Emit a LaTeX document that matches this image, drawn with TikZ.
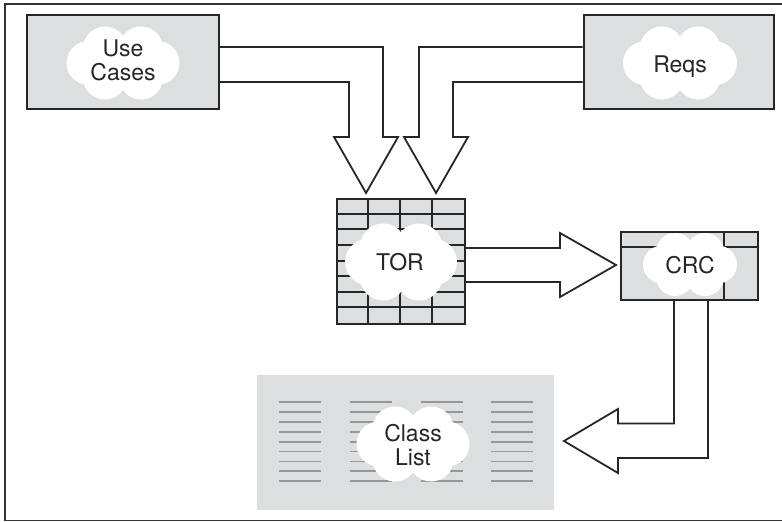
\documentclass[tikz,border=0pt]{standalone}
\usepackage{fontspec}
\setmainfont{TeX Gyre Heros}
\definecolor{boxgray}{RGB}{221,222,223}
\definecolor{linegray}{RGB}{150,150,152}
\newcommand\cloudblob[4]{%
  \fill[white] ({#1-0.16*#3},{#2-0.2*#4}) circle[radius={0.3*#4*1pt}];
  \fill[white] ({#1+0.16*#3},{#2-0.2*#4}) circle[radius={0.3*#4*1pt}];
  \fill[white] ({#1-0.16*#3},{#2+0.2*#4}) circle[radius={0.3*#4*1pt}];
  \fill[white] ({#1+0.16*#3},{#2+0.2*#4}) circle[radius={0.3*#4*1pt}];
  \fill[white] ({#1-0.5*#3+0.3*#4},{#2}) circle[radius={0.3*#4*1pt}];
  \fill[white] ({#1+0.5*#3-0.3*#4},{#2}) circle[radius={0.3*#4*1pt}];
  \fill[white] ({#1-0.5*#3+0.3*#4},{#2-0.25*#4}) rectangle ({#1+0.5*#3-0.3*#4},{#2+0.25*#4});
}
\tikzset{
  box/.style={draw=black!85, fill=boxgray, line width=2pt, inner sep=0pt, rectangle},
  blockarrow/.style={draw=black!85, fill=white, line width=1.8pt, line join=miter},
  label/.style={font=\fontsize{23}{24}\selectfont, align=center, inner sep=0pt, text=black!85},
  grid/.style={draw=black!85, line width=2pt},
}
\begin{document}
\begin{tikzpicture}[x=1pt,y=-1pt]
\useasboundingbox (0,0) rectangle (782,522);
% frame
\draw[line width=1.3pt, black!80] (782,4) -- (5,4) -- (5,520.5) -- (782,520.5);

% boxes
\node[box, minimum width=192pt, minimum height=94pt] (uc) at (123,62) {};
\node[box, minimum width=190pt, minimum height=94pt] (reqs) at (678.5,62) {};
\node[box, minimum width=128pt, minimum height=125pt] (tor) at (401,261.5) {};
\node[box, minimum width=137pt, minimum height=68pt] (crc) at (689.5,266) {};
\node[fill=boxgray, draw=none, inner sep=0pt, minimum width=297pt, minimum height=135pt] (cl) at (405.5,442.5) {};

% block arrows
\draw[blockarrow] (uc.east |- 0,47) -- (383,47) -- (383,137) -- (398,137) -- (366,193)
  -- (334,137) -- (349,137) -- (349,82) -- (uc.east |- 0,82);
\draw[blockarrow] (reqs.west |- 0,47) -- (419,47) -- (419,137) -- (404,137) -- (436,193)
  -- (468,137) -- (453,137) -- (453,82) -- (reqs.west |- 0,82);
\draw[blockarrow] (tor.east |- 0,248) -- (560,248) -- (560,233) -- (616,265)
  -- (560,297) -- (560,282) -- (tor.east |- 0,282);
\draw[blockarrow] (crc.south -| 674,0) -- (674,423.5) -- (618,423.5) -- (618,409) -- (564,441)
  -- (618,473) -- (618,458) -- (708,458) -- (crc.south -| 708,0);

% TOR grid
\foreach \i in {1,2,3} \draw[grid] ([xshift=32*\i pt]tor.north west) -- ([xshift=32*\i pt]tor.south west);
\foreach \j in {1,...,7} \draw[grid] ([yshift=-15.625*\j pt]tor.north west) -- ([yshift=-15.625*\j pt]tor.north east);

% CRC dividers
\draw[grid] ([yshift=-16pt]crc.north west) -- ([yshift=-16pt]crc.north east);
\draw[grid] ([xshift=104pt]crc.north west) -- ([xshift=104pt]crc.south west);

% class list lines
\foreach \x in {279,350,421,491}
  \foreach \k in {0,...,8}
    \draw[linegray, line width=1.7pt] (\x,{402.3+9.85*\k}) -- ({\x+42},{402.3+9.85*\k});

% clouds
\cloudblob{123}{63}{113}{73}
\cloudblob{680}{63}{114}{73}
\cloudblob{401}{262}{112}{77}
\cloudblob{690}{264.5}{94}{63}
\cloudblob{413}{444}{113}{75}

% labels
\node[label] (uct) at (123,60.8) {Use\\Cases};
\node[label, anchor=base] (reqst) at (680,72.5) {Reqs};
\node[label, anchor=base] (tort) at (400,270.5) {TOR};
\node[label, anchor=base] (crct) at (690,273.3) {CRC};
\node[label] (clt) at (413,444.7) {Class\\List};
\end{tikzpicture}
\end{document}
